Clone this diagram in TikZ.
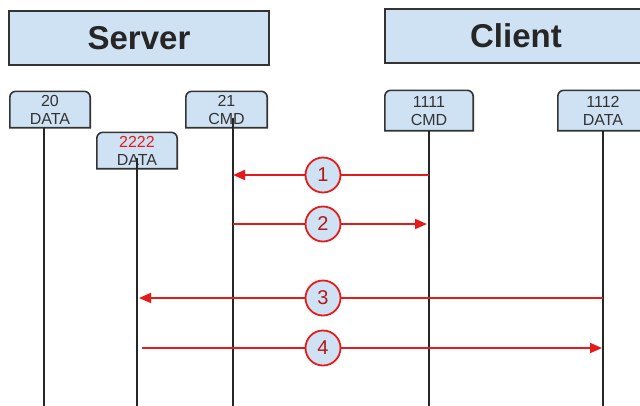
\documentclass[tikz,border=0pt]{standalone}
\usepackage{fontspec}
\setmainfont{Liberation Sans}
\usetikzlibrary{arrows.meta,backgrounds}
\definecolor{boxblue}{HTML}{CFE2F3}
\definecolor{linered}{HTML}{E31B1B}
\definecolor{edgegray}{HTML}{333333}
\begin{document}
\begin{tikzpicture}[x=1pt,y=-1pt,
  header/.style={draw=edgegray, line width=2pt, fill=boxblue, minimum width=#1, minimum height=54, inner sep=0pt, font=\fontsize{33}{36}\selectfont\bfseries, text=black!85},
  port/.style={minimum width=#1, minimum height=36, inner sep=0pt, align=center, font=\fontsize{16}{18}\selectfont, text=black!80, text depth=-5pt},
  portbox/.style={draw=edgegray, line width=1.6pt, fill=boxblue},
  life/.style={draw=black!85, line width=1.8pt},
  msg/.style={draw=linered, line width=1.8pt, -{Triangle[length=12pt,width=10pt]}},
  num/.style={circle, draw=linered, line width=1.8pt, fill=boxblue, minimum size=35pt, inner sep=0pt, font=\fontsize{20}{20}\selectfont, text=linered!80!black}]
\useasboundingbox (0,0) rectangle (640,405);
\clip (0,0) rectangle (640,405);

\node[header=260] (server) at (139,38) {Server};
\node[header=262] (client) at (516,36) {Client};

\node[port=80] (p20) at (50,109.5) {20\\DATA};
\node[port=81] (p21) at (226.5,109.5) {21\\CMD};
\node[port=80] (p2222) at (137,150.5) {{\color{linered}2222}\\DATA};
\node[port=88, minimum height=40] (p1111) at (429,110.5) {1111\\CMD};
\node[port=90, minimum height=40] (p1112) at (603,110.5) {1112\\DATA};

\begin{scope}[on background layer]
  \fill[white] (0,0) rectangle (640,405);
  \foreach \n in {p20,p21,p2222,p1111,p1112}
    \path[portbox] (\n.south west) [rounded corners=6pt] -- (\n.north west) -- (\n.north east) [sharp corners] -- (\n.south east) -- cycle;
\end{scope}

\coordinate (t20) at ([xshift=-6pt]p20.south);
\coordinate (t21) at ([xshift=6.5pt,yshift=9.5pt]p21.south);
\coordinate (t2222) at ([yshift=11pt]p2222.south);
\coordinate (t1111) at (p1111.south);
\coordinate (t1112) at (p1112.south);

\foreach \t in {t20,t21,t2222,t1111,t1112}
  \draw[life] (\t) -- (\t |- 0,410);

\draw[msg] (t1111 |- 0,175) -- (t21 |- 0,175);
\draw[msg] (t21 |- 0,224) -- ([xshift=-2pt]t1111 |- 0,224);
\draw[msg] (t1112 |- 0,298) -- ([xshift=2pt]t2222 |- 0,298);
\draw[msg] ([xshift=5pt]t2222 |- 0,348) -- ([xshift=-1pt]t1112 |- 0,348);

\node[num] (n1) at (323,175) {1};
\node[num] (n2) at (323,224) {2};
\node[num] (n3) at (323,298) {3};
\node[num] (n4) at (323,348) {4};
\end{tikzpicture}
\end{document}
